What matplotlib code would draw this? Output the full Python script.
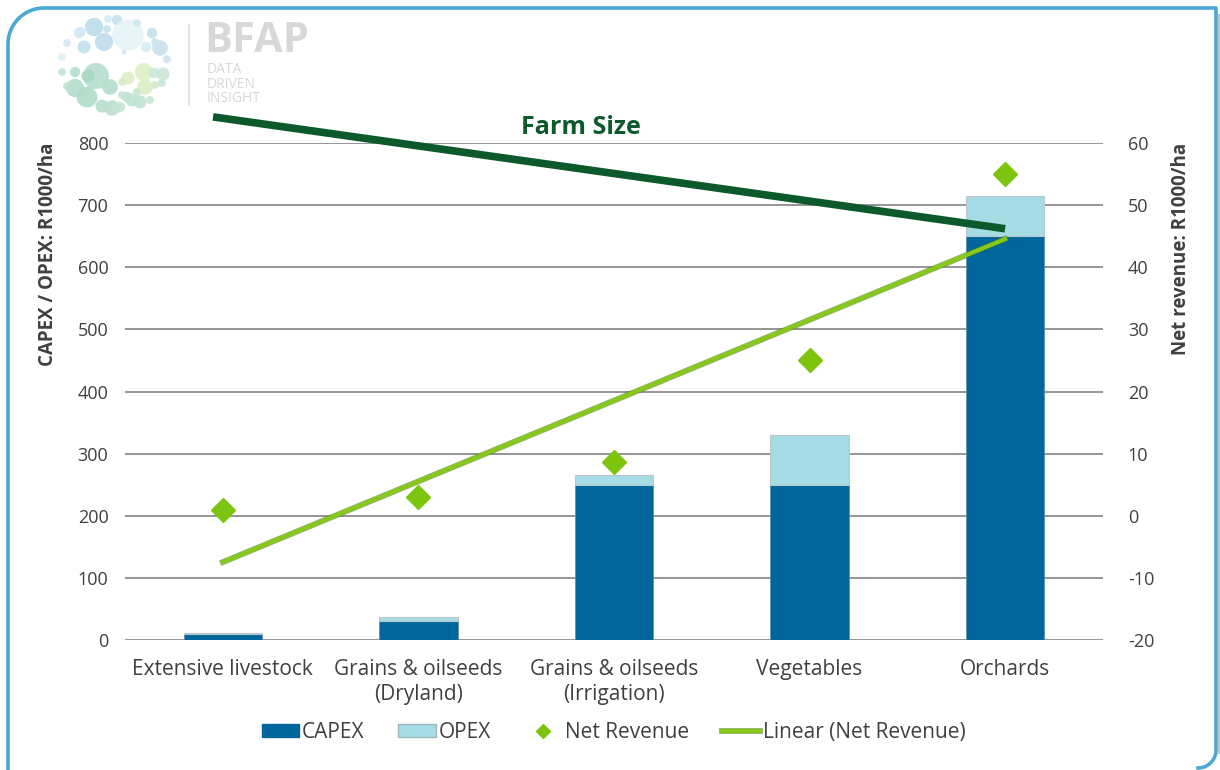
import numpy as np
import matplotlib
matplotlib.use("Agg")
import matplotlib.pyplot as plt
import matplotlib.patheffects as pe
from matplotlib.patches import Circle, Patch, Rectangle
from matplotlib.lines import Line2D

plt.rcParams["font.family"] = ["Open Sans", "DejaVu Sans"]
plt.rcParams["axes.unicode_minus"] = False

# Cost and revenue per hectare by farming system
categories = ["Extensive livestock", "Grains & oilseeds\n(Dryland)",
              "Grains & oilseeds\n(Irrigation)", "Vegetables", "Orchards"]
capex = [10, 30, 250, 250, 650]
opex = [2, 7, 15, 80, 65]
net_revenue = [1, 3, 8.7, 25, 55]

left_ticks = [0, 100, 200, 300, 400, 500, 600, 700, 800]
right_ticks = [-20, -10, 0, 10, 20, 30, 40, 50, 60]

CAPEX_COL = "#00669c"
OPEX_COL = "#a6dce4"
NR_COL = "#7cc40e"
TREND_COL = "#86c91a"
FARM_COL = "#0c5a2b"
TEXT_COL = "#404040"
GRID_COL = "#8c8c8c"
FRAME_COL = "#4ba8d2"

W, H = 1220, 770
fig = plt.figure(figsize=(W / 100, H / 100), dpi=100)

# background layer in pixel units for the frame and the logo
bg = fig.add_axes([0, 0, 1, 1], zorder=-1)
bg.set_xlim(0, W)
bg.set_ylim(H, 0)
bg.axis("off")

# panel frame: rounded top-left and bottom-right corners
r1, r2 = 36, 18
t1 = np.linspace(np.pi, 1.5 * np.pi, 30)
t2 = np.linspace(0, 0.5 * np.pi, 30)
fx = np.concatenate([[8], 8 + r1 + r1 * np.cos(t1), [1216],
                     1216 - r2 + r2 * np.cos(t2)])
fy = np.concatenate([[H + 5], 8 + r1 + r1 * np.sin(t1), [8],
                     H - 2 - r2 + r2 * np.sin(t2)])
bg.plot(fx, fy, color=FRAME_COL, linewidth=2.6, solid_joinstyle="round")
bg.add_patch(Rectangle((1217.5, 14), 3, H - 30, facecolor="#c4c4c4",
                       edgecolor="none"))

# BFAP logo: bubble cluster, divider and wordmark
bubbles = [
    (94, 27, 7, "#bcdcec"), (80, 32, 4, "#cbe5f0"), (108, 19, 3, "#d6ebf3"),
    (117, 20, 4, "#c5e1ee"), (128, 35, 12, "#e6f3f7"), (104, 42, 7, "#bedcec"),
    (84, 47, 5, "#c2dfee"), (67, 43, 3, "#d3e9f2"), (79, 33, 4, "#d6ebf3"),
    (107, 29, 3, "#c8e3ef"), (137, 23, 3, "#cde6f1"), (152, 33, 4, "#c3e0ee"),
    (160, 48, 6, "#c8e2ef"), (146, 47, 4, "#d8ecf4"), (167, 59, 3, "#cbe4f0"),
    (62, 57, 3, "#dff0f5"), (124, 52, 2, "#d3e9f2"), (155, 42, 3, "#c9e3ef"),
    (62, 72, 3, "#bfe3d4"), (75, 72, 4, "#b5dfcf"), (96, 76, 10, "#b6dfcf"),
    (88, 76, 5, "#a9d8c5"), (75, 88, 7, "#b3ddcc"), (67, 86, 3, "#bde2d2"),
    (87, 97, 8, "#afdbc9"), (110, 87, 6, "#b3ddcc"), (102, 106, 5, "#b6dfce"),
    (112, 108, 6, "#b9e0d0"), (120, 107, 4, "#c3e4d5"), (128, 78, 5, "#dcefc6"),
    (122, 82, 3, "#d5ecc3"), (144, 72, 7, "#def0c5"), (154, 73, 4, "#cbe9d8"),
    (163, 74, 5, "#c9e7d6"), (145, 87, 6, "#dbefc4"), (155, 85, 3, "#d2ebc8"),
    (162, 83, 3, "#c6e6d6"), (137, 92, 3, "#c9e7c8"), (127, 97, 4, "#bde2d2"),
    (132, 100, 5, "#bfe3d3"), (140, 102, 5, "#bfe3d3"), (150, 100, 3, "#c6e6d6"),
    (122, 95, 3, "#c3e4d5"),
]
for bx, by, br, bc in bubbles:
    bg.add_patch(Circle((bx, by), br * 1.3, facecolor=bc, edgecolor="none",
                        alpha=0.9))
bg.plot([189, 189], [25, 105], color="#e2e2e2", linewidth=1.2)
bg.text(204, 41, "BFAP", fontsize=30, fontweight="bold", color="#d7d8da",
        ha="left", va="center")
bg.text(207, 84, "DATA\nDRIVEN\nINSIGHT", fontsize=10, color="#d7d8da",
        ha="left", va="center", linespacing=0.95)

ax = fig.add_axes([0.1025, 0.1688, 0.8015, 0.6455])
ax2 = ax.twinx()

x = np.arange(len(categories))
ax.bar(x, capex, width=0.4, color=CAPEX_COL, edgecolor="#5f8fae",
       linewidth=0.6, zorder=3, label="CAPEX")
ax.bar(x, opex, width=0.4, bottom=capex, color=OPEX_COL,
       edgecolor="#b8c8cc", linewidth=0.8, zorder=3, label="OPEX")

ax.set_xlim(-0.5, len(categories) - 0.5)
ax.set_ylim(0, 800)
ax.set_yticks(left_ticks)
ax.yaxis.grid(True, color=GRID_COL, linewidth=1.3, zorder=0)
ax.set_axisbelow(True)
ax.set_xticks(x)
ax.set_xticklabels(categories, fontsize=15, color=TEXT_COL)
ax.tick_params(axis="y", length=0, labelsize=13, colors=TEXT_COL, pad=12)
ax.tick_params(axis="x", length=0, colors=TEXT_COL, pad=14)
for s in ax.spines.values():
    s.set_visible(False)
ax.set_ylabel("CAPEX / OPEX: R1000/ha", fontsize=13.5, fontweight="bold",
              color=TEXT_COL, labelpad=14, loc="top")

# net revenue on the secondary axis, with its linear trend
slope, intercept = np.polyfit(x, net_revenue, 1)
trend = slope * x + intercept
ax2.plot(x, trend, color=TREND_COL, linewidth=3.0, zorder=4,
         path_effects=[pe.Stroke(linewidth=4.2, foreground="#4c7a10", alpha=0.6),
                       pe.Normal()])
ax2.plot(x, net_revenue, linestyle="none", marker="D", markersize=12.5,
         color=NR_COL, markeredgecolor=NR_COL, zorder=5)
ax2.set_ylim(-20, 60)
ax2.set_yticks(right_ticks)
ax2.tick_params(axis="y", length=0, labelsize=13, colors=TEXT_COL, pad=18)
for s in ax2.spines.values():
    s.set_visible(False)
ax2.set_ylabel("Net revenue: R1000/ha", fontsize=13.5, fontweight="bold",
               color=TEXT_COL, labelpad=12, loc="top")

# farm size indicator line above the bars
ax.plot([-0.05, 4.0], [842, 662], color=FARM_COL, linewidth=5.5,
        solid_capstyle="butt", clip_on=False, zorder=6)
ax.text(1.83, 825, "Farm Size", fontsize=18, fontweight="bold",
        color=FARM_COL, ha="center", va="center", clip_on=False)

# legend
handles = [Patch(facecolor=CAPEX_COL, edgecolor=CAPEX_COL),
           Patch(facecolor=OPEX_COL, edgecolor="#9fb8bd"),
           Line2D([], [], linestyle="none", marker="D", markersize=7,
                  color=NR_COL),
           Line2D([], [], color=TREND_COL, linewidth=3.0,
                  path_effects=[pe.Stroke(linewidth=4.2, foreground="#4c7a10",
                                          alpha=0.6), pe.Normal()])]
labels = ["CAPEX", "OPEX", "Net Revenue", "Linear (Net Revenue)"]
fig.legend(handles, labels, loc="center", bbox_to_anchor=(0.503, 0.049),
           ncol=4, frameon=False, fontsize=15, labelcolor=TEXT_COL,
           handlelength=1.8, handleheight=0.6, handletextpad=0.15,
           columnspacing=1.6)

fig.savefig("out.png", dpi=100)
